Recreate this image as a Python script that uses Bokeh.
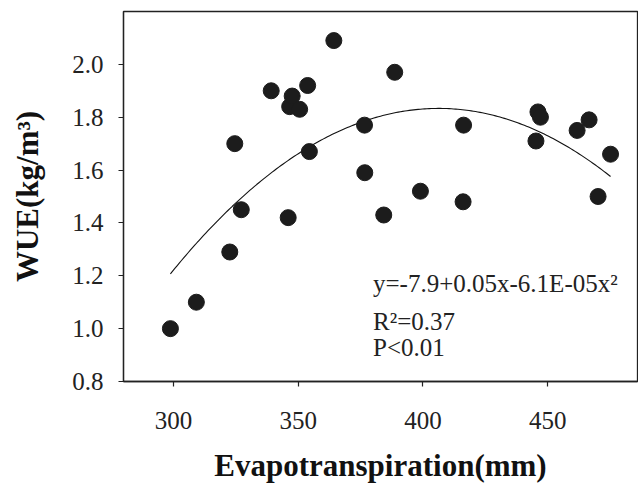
import numpy as np
from bokeh.plotting import figure
from bokeh.models import Range1d, FixedTicker, NumeralTickFormatter, Label, ColumnDataSource
from bokeh.embed import file_html
from bokeh.resources import INLINE

# ---- data ----
et_mm = [298.8, 309.2, 322.6, 324.6, 327.2, 339.2, 346.0, 346.6, 347.6, 350.6,
         353.8, 354.5, 364.3, 376.6, 376.7, 384.3, 388.7, 399.0, 416.1, 416.3,
         445.3, 446.1, 447.1, 461.8, 466.6, 470.2, 475.2]
wue = [1.00, 1.10, 1.29, 1.70, 1.45, 1.90, 1.42, 1.84, 1.88, 1.83,
       1.92, 1.67, 2.09, 1.77, 1.59, 1.43, 1.97, 1.52, 1.48, 1.77,
       1.71, 1.82, 1.80, 1.75, 1.79, 1.50, 1.66]
x_ticks = [300, 350, 400, 450]
y_ticks = [0.8, 1.0, 1.2, 1.4, 1.6, 1.8, 2.0]
eq_text = "y=-7.9+0.05x-6.1E-05x\u00b2"
r2_text = "R\u00b2=0.37"
p_text = "P<0.01"
x_label = "Evapotranspiration(mm)"
y_label = "WUE(kg/m\u00b3)"

# quadratic regression of the points
coef = np.polyfit(et_mm, wue, 2)
fit_x = np.linspace(min(et_mm), max(et_mm), 200)
fit_y = np.polyval(coef, fit_x)

FONT = "Liberation Serif"

p = figure(width=638, height=486, output_backend="svg", toolbar_location=None,
           x_range=Range1d(280, 486), y_range=Range1d(0.8, 2.2),
           min_border_left=123, min_border_right=1, min_border_top=11, min_border_bottom=105)
p.background_fill_color = "white"
p.border_fill_color = "white"
p.grid.visible = False
p.outline_line_color = "#222222"
p.outline_line_width = 1.3

p.line(fit_x, fit_y, line_color="#111111", line_width=1.1)
src = ColumnDataSource(dict(x=et_mm, y=wue))
p.scatter("x", "y", source=src, size=16, fill_color="#1c1c1c", line_color="#1c1c1c")

for ax in (p.xaxis[0], p.yaxis[0]):
    ax.axis_line_color = "#222222"
    ax.axis_line_width = 1.3
    ax.major_tick_line_color = "#222222"
    ax.major_tick_line_width = 1.2
    ax.major_tick_in = 0
    ax.major_tick_out = 5
    ax.minor_tick_line_color = None
    ax.major_label_text_font = FONT
    ax.major_label_text_font_size = "25px"
    ax.major_label_text_color = "#222222"
    ax.axis_label_text_font = FONT
    ax.axis_label_text_font_style = "bold"
    ax.axis_label_text_font_size = "31px"
    ax.axis_label_text_color = "#111111"

p.xaxis.ticker = FixedTicker(ticks=x_ticks)
p.yaxis.ticker = FixedTicker(ticks=y_ticks)
p.yaxis.formatter = NumeralTickFormatter(format="0.0")
p.xaxis.axis_label = x_label
p.yaxis.axis_label = y_label
p.xaxis.major_label_standoff = 25
p.xaxis.axis_label_standoff = 16
p.yaxis.major_label_standoff = 15
p.yaxis.axis_label_standoff = 24

for txt, yy in ((eq_text, 1.171), (r2_text, 1.027), (p_text, 0.927)):
    p.add_layout(Label(x=380, y=yy, text=txt, text_font=FONT, text_font_size="25px",
                       text_color="#222222", text_align="left", text_baseline="middle"))

open("out.html", "w").write(file_html(p, INLINE))
